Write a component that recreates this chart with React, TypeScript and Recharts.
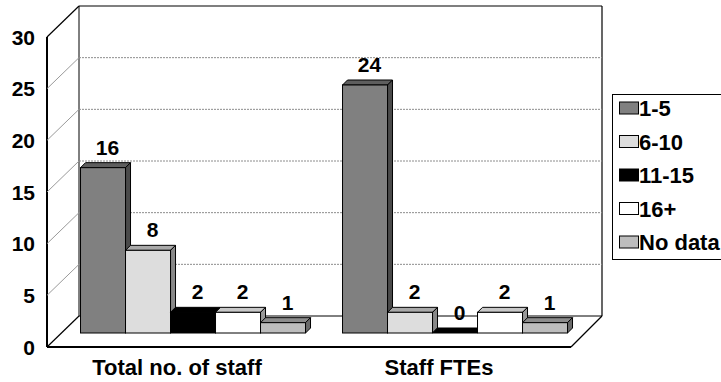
import React from 'react';
import { BarChart, Bar, XAxis, YAxis, CartesianGrid, LabelList } from 'recharts';

// Staff size bands per category
const categories = ['Total no. of staff', 'Staff FTEs'];
const band1to5 = [16, 24];
const band6to10 = [8, 2];
const band11to15 = [2, 0];
const band16plus = [2, 2];
const bandNoData = [1, 1];
const seriesNames = ['1-5', '6-10', '11-15', '16+', 'No data'];
const yTicks = [0, 5, 10, 15, 20, 25, 30];

const data = categories.map((category, i) => ({
  category,
  b1: band1to5[i],
  b2: band6to10[i],
  b3: band11to15[i],
  b4: band16plus[i],
  b5: bandNoData[i],
}));

// front / top / side shades for each series
const palette = [
  { key: 'b1', front: '#808080', top: '#5e5e5e', side: '#4a4a4a' },
  { key: 'b2', front: '#dddddd', top: '#a9a9a9', side: '#888888' },
  { key: 'b3', front: '#000000', top: '#000000', side: '#000000' },
  { key: 'b4', front: '#ffffff', top: '#c8c8c8', side: '#999999' },
  { key: 'b5', front: '#bdbdbd', top: '#8c8c8c', side: '#6a6a6a' },
];

const W = 721;
const H = 382;
const PLOT_LEFT = 61;
const PLOT_RIGHT = 585;
const PLOT_TOP = 23;
const PLOT_BOTTOM = 333;
const X_AXIS_H = 30;
const Y_AXIS_W = 40;

// projection offsets of the 3D box relative to the bar plane
const FRONT_DX = -14;
const FRONT_DY = 14;
const BACK_DX = 18;
const BACK_DY = -17;
const DEPTH = 5;

const FONT = '"Liberation Sans", Arial, sans-serif';
const FS = 21;
const FS_LARGE = 22;

const makeShape = (p: { front: string; top: string; side: string }) => (props: any) => {
  const { x, y, width, height } = props;
  const h = Math.max(0, height || 0);
  const x2 = x + width;
  const yb = y + h;
  return (
    <g>
      <polygon
        points={`${x},${y} ${x + DEPTH},${y - DEPTH} ${x2 + DEPTH},${y - DEPTH} ${x2},${y}`}
        fill={p.top}
        stroke="#000"
        strokeWidth={1}
        strokeLinejoin="round"
      />
      <polygon
        points={`${x2},${y} ${x2 + DEPTH},${y - DEPTH} ${x2 + DEPTH},${yb - DEPTH} ${x2},${yb}`}
        fill={p.side}
        stroke="#000"
        strokeWidth={1}
        strokeLinejoin="round"
      />
      {h > 0 && <rect x={x} y={y} width={width} height={h} fill={p.front} stroke="#000" strokeWidth={1} />}
    </g>
  );
};

const valueLabel = (props: any) => {
  const { x, y, width, value } = props;
  return (
    <text
      x={x + width / 2 + 4.5}
      y={y - 13}
      textAnchor="middle"
      fontFamily={FONT}
      fontSize={FS}
      fontWeight="bold"
      fill="#000"
    >
      {value}
    </text>
  );
};

const gridLine = (props: any) => {
  const { x1, x2, y1, key } = props;
  const y = y1;
  const isBottom = Math.abs(y - PLOT_BOTTOM) < 1;
  const isTop = Math.abs(y - PLOT_TOP) < 1;
  const fx1 = x1 + FRONT_DX;
  const fx2 = x2 + FRONT_DX;
  const bx1 = x1 + BACK_DX;
  const bx2 = x2 + BACK_DX - 1;
  const fy = y + FRONT_DY;
  const by = y + BACK_DY;
  if (isBottom) {
    const topBack = PLOT_TOP + BACK_DY;
    const topFront = PLOT_TOP + FRONT_DY;
    return (
      <g key={key}>
        {/* walls */}
        <line x1={bx1} y1={topBack} x2={bx1} y2={by} stroke="#000" strokeWidth={1} />
        <line x1={bx2} y1={topBack} x2={bx2} y2={by} stroke="#000" strokeWidth={1.2} />
        <line x1={fx1} y1={topFront} x2={fx1} y2={fy} stroke="#000" strokeWidth={2} />
        {/* floor */}
        <line x1={bx1} y1={by} x2={bx2} y2={by} stroke="#000" strokeWidth={1} />
        <line x1={fx1} y1={fy} x2={bx1} y2={by} stroke="#000" strokeWidth={1.2} />
        <line x1={fx2} y1={fy} x2={bx2} y2={by} stroke="#000" strokeWidth={1.2} />
        <line x1={fx1} y1={fy} x2={fx2} y2={fy} stroke="#000" strokeWidth={2} />
      </g>
    );
  }
  if (isTop) {
    return (
      <g key={key}>
        <line x1={fx1} y1={fy} x2={bx1} y2={by} stroke="#000" strokeWidth={1.2} />
        <line x1={bx1} y1={by} x2={bx2} y2={by} stroke="#000" strokeWidth={1.2} />
      </g>
    );
  }
  return (
    <g key={key}>
      <line x1={fx1} y1={fy} x2={bx1} y2={by} stroke="#9a9a9a" strokeWidth={1} />
      <line x1={bx1} y1={by} x2={bx2} y2={by} stroke="#8c8c8c" strokeWidth={1} strokeDasharray="2 1" />
    </g>
  );
};

const yTick = (props: any) => {
  const { y, payload } = props;
  return (
    <text
      x={PLOT_LEFT + FRONT_DX - 12}
      y={y + FRONT_DY + 7.5}
      textAnchor="end"
      fontFamily={FONT}
      fontSize={FS}
      fontWeight="bold"
      fill="#000"
    >
      {payload.value}
    </text>
  );
};

const xTick = (props: any) => {
  const { x, payload } = props;
  return (
    <text
      x={x - 15}
      y={PLOT_BOTTOM + 42}
      textAnchor="middle"
      fontFamily={FONT}
      fontSize={FS_LARGE}
      fontWeight="bold"
      fill="#000"
    >
      {payload.value}
    </text>
  );
};

// legend box at the right edge
const LEGEND_ROWS = [14, 47.5, 81, 114.5, 148];

function LegendBox() {
  return (
    <svg
      width={130}
      height={166}
      style={{ position: 'absolute', left: 612, top: 94, display: 'block' }}
    >
      <rect x={0.5} y={0.5} width={140} height={165} fill="#fff" stroke="#000" strokeWidth={1} />
      {seriesNames.map((name, i) => (
        <g key={name}>
          <rect
            x={7.5}
            y={LEGEND_ROWS[i] - 6}
            width={19}
            height={12}
            fill={palette[i].front}
            stroke="#000"
            strokeWidth={1}
          />
          <text
            x={27}
            y={LEGEND_ROWS[i] + 8}
            fontFamily={FONT}
            fontSize={FS_LARGE}
            fontWeight="bold"
            fill="#000"
          >
            {name}
          </text>
        </g>
      ))}
    </svg>
  );
}

export default function App() {
  return (
    <div style={{ position: 'absolute', left: 0, top: 0, width: W, height: H, overflow: 'hidden', background: '#fff' }}>
      <BarChart
        width={W}
        height={H}
        data={data}
        margin={{
          top: PLOT_TOP,
          right: W - PLOT_RIGHT,
          bottom: H - PLOT_BOTTOM - X_AXIS_H,
          left: PLOT_LEFT - Y_AXIS_W,
        }}
        barCategoryGap="7.45%"
        barGap={0}
      >
        <CartesianGrid vertical={false} horizontal={gridLine} />
        <XAxis
          dataKey="category"
          axisLine={false}
          tickLine={false}
          height={X_AXIS_H}
          interval={0}
          tick={xTick}
        />
        <YAxis
          type="number"
          domain={[0, 30]}
          ticks={yTicks}
          axisLine={false}
          tickLine={false}
          width={Y_AXIS_W}
          tick={yTick}
        />
        {palette.map((p, i) => (
          <Bar
            key={p.key}
            dataKey={p.key}
            name={seriesNames[i]}
            fill={p.front}
            isAnimationActive={false}
            shape={makeShape(p)}
          >
            <LabelList dataKey={p.key} content={valueLabel} />
          </Bar>
        ))}
      </BarChart>
      <LegendBox />
    </div>
  );
}
